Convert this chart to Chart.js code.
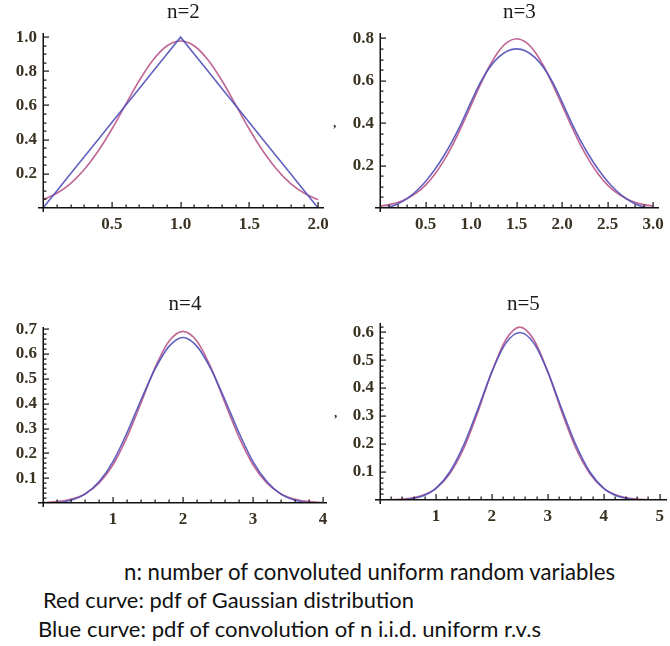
<!DOCTYPE html>
<html><head><meta charset="utf-8">
<script src="https://cdn.jsdelivr.net/npm/chart.js@4.4.0/dist/chart.umd.min.js"></script>
<style>
html,body{margin:0;padding:0;background:#fff;width:670px;height:646px;overflow:hidden;position:relative;}
canvas{position:absolute;}
.cap{position:absolute;font-family:Lato,'Open Sans',sans-serif;color:#111;white-space:nowrap;line-height:1;font-size:19px;}
.mark{position:absolute;font-family:'Liberation Serif',serif;font-weight:bold;font-size:13px;color:#222;line-height:1;}
</style></head><body>
<canvas id="c2" width="335" height="240" style="left:0;top:0"></canvas>
<canvas id="c3" width="335" height="240" style="left:335px;top:0"></canvas>
<canvas id="c4" width="335" height="255" style="left:0;top:280px"></canvas>
<canvas id="c5" width="335" height="255" style="left:335px;top:280px"></canvas>
<div class="mark" style="left:333px;top:116px">,</div>
<div class="mark" style="left:334px;top:406px">,</div>
<div class="cap" id="t1" data-w="491" style="left:124px;top:561px">n: number of convoluted uniform random variables</div>
<div class="cap" id="t2" data-w="371" style="left:43px;top:589px">Red curve: pdf of Gaussian distribution</div>
<div class="cap" id="t3" data-w="503" style="left:38px;top:618px">Blue curve: pdf of convolution of n i.i.d. uniform r.v.s</div>
<script>
// ---------- data ----------
const titles = ['n=2','n=3','n=4','n=5'];

const x2 = [0,0.1,0.2,0.3,0.4,0.5,0.6,0.7,0.8,0.9,1.0,1.1,1.2,1.3,1.4,1.5,1.6,1.7,1.8,1.9,2.0];
const blue2 = [0,0.1,0.2,0.3,0.4,0.5,0.6,0.7,0.8,0.9,1.0,0.9,0.8,0.7,0.6,0.5,0.4,0.3,0.2,0.1,0];
const red2 = [0.049,0.086,0.143,0.225,0.332,0.461,0.605,0.746,0.866,0.948,0.977,0.948,0.866,0.746,0.605,0.461,0.332,0.225,0.143,0.086,0.049];

const x3 = [0,0.1,0.2,0.3,0.4,0.5,0.6,0.7,0.8,0.9,1.0,1.1,1.2,1.3,1.4,1.5,1.6,1.7,1.8,1.9,2.0,2.1,2.2,2.3,2.4,2.5,2.6,2.7,2.8,2.9,3.0];
const blue3 = [0,0.005,0.02,0.045,0.08,0.125,0.18,0.245,0.32,0.405,0.5,0.59,0.66,0.71,0.74,0.75,0.74,0.71,0.66,0.59,0.5,0.405,0.32,0.245,0.18,0.125,0.08,0.045,0.02,0.005,0];
const red3 = [0.009,0.016,0.027,0.045,0.071,0.108,0.158,0.222,0.299,0.388,0.484,0.579,0.667,0.737,0.782,0.798,0.782,0.737,0.667,0.579,0.484,0.388,0.299,0.222,0.158,0.108,0.071,0.045,0.027,0.016,0.009];

const x4 = [0,0.2,0.4,0.6,0.8,1.0,1.2,1.4,1.6,1.8,2.0,2.2,2.4,2.6,2.8,3.0,3.2,3.4,3.6,3.8,4.0];
const blue4 = [0,0.0013,0.0107,0.036,0.0853,0.1667,0.2827,0.4147,0.5387,0.6307,0.6667,0.6307,0.5387,0.4147,0.2827,0.1667,0.0853,0.036,0.0107,0.0013,0];
const red4 = [0.0017,0.0054,0.0149,0.0365,0.0797,0.154,0.265,0.403,0.544,0.651,0.691,0.651,0.544,0.403,0.265,0.154,0.0797,0.0365,0.0149,0.0054,0.0017];

const x5 = [0,0.25,0.5,0.75,1.0,1.25,1.5,1.75,2.0,2.25,2.5,2.75,3.0,3.25,3.5,3.75,4.0,4.25,4.5,4.75,5.0];
const blue5 = [0,0.0002,0.0026,0.0132,0.0417,0.1009,0.1979,0.3249,0.4583,0.5609,0.599,0.5609,0.4583,0.3249,0.1979,0.1009,0.0417,0.0132,0.0026,0.0002,0];
const red5 = [0.0003,0.0014,0.0051,0.0157,0.0415,0.0948,0.186,0.315,0.458,0.573,0.618,0.573,0.458,0.315,0.186,0.0948,0.0415,0.0157,0.0051,0.0014,0.0003];

// tick labels
const xTicks2 = [0.5,1.0,1.5,2.0];
const yTicks2 = [0.2,0.4,0.6,0.8,1.0];
const xTicks3 = [0.5,1.0,1.5,2.0,2.5,3.0];
const yTicks3 = [0.2,0.4,0.6,0.8];
const xTicks4 = [1,2,3,4];
const yTicks4 = [0.1,0.2,0.3,0.4,0.5,0.6,0.7];
const xTicks5 = [1,2,3,4,5];
const yTicks5 = [0.1,0.2,0.3,0.4,0.5,0.6];

// ---------- drawing ----------
const BLUE = 'rgba(80,80,185,0.9)';
const RED = 'rgba(180,75,130,0.85)';
const LABEL = '#3a3222';

function axesPlugin(o, name) {
  return {
    id: 'axes_' + name,
    afterDraw(chart) {
      const ctx = chart.ctx, a = chart.chartArea;
      const x = chart.scales.x, y = chart.scales.y;
      const x0 = Math.round(x.getPixelForValue(0));
      const y0 = Math.round(y.getPixelForValue(0));
      ctx.save();
      ctx.setTransform(1, 0, 0, 1, 0, 0);
      ctx.globalAlpha = 1;
      ctx.globalCompositeOperation = 'source-over';
      ctx.fillStyle = '#111';
      ctx.fillRect(Math.round(a.left) - 5, y0 - 1, Math.round(a.right - a.left) + 5, 1.5);
      ctx.fillRect(x0 - 0.5, Math.round(a.top), 1.5, y0 + 4 - Math.round(a.top));
      const nx = Math.floor(o.xMax / o.xMinor + 1e-6);
      for (let k = 1; k <= nx; k++) {
        const v = k * o.xMinor;
        const r = v / o.xMajor;
        const major = Math.abs(r - Math.round(r)) < 1e-6;
        const px = Math.round(x.getPixelForValue(v));
        const len = major ? 6 : 3.5;
        ctx.fillRect(px - 0.5, y0 - len, 1.2, len);
      }
      const ny = Math.floor(o.yMax / o.yMinor + 1e-6);
      for (let k = 1; k <= ny; k++) {
        const v = k * o.yMinor;
        const r = v / o.yMajor;
        const major = Math.abs(r - Math.round(r)) < 1e-6;
        const py = Math.round(y.getPixelForValue(v));
        const len = major ? 6 : 3.5;
        ctx.fillRect(x0, py - 0.5, len, 1.2);
      }
      ctx.restore();
    }
  };
}

function pts(xs, ys) { return xs.map((v, i) => ({x: v, y: ys[i]})); }

function makeChart(id, cfg) {
  const font = {family: "'Liberation Serif', serif", size: 17, weight: 'bold'};
  cfg.ticks.xMax = cfg.xMax; cfg.ticks.yMax = cfg.yMax;
  new Chart(document.getElementById(id), {
    type: 'line',
    data: {
      datasets: [
        {data: pts(cfg.xs, cfg.blue), borderColor: BLUE, borderWidth: 1.6, pointRadius: 0, fill: false,
         tension: 0, cubicInterpolationMode: cfg.straightBlue ? 'default' : 'monotone'},
        {data: pts(cfg.xs, cfg.red), borderColor: RED, borderWidth: 1.6, pointRadius: 0, fill: false,
         cubicInterpolationMode: 'monotone'}
      ]
    },
    options: {
      responsive: false, animation: false, devicePixelRatio: 1,
      layout: {padding: {left: 0, right: cfg.padR, top: 0, bottom: 0}},
      plugins: {
        legend: {display: false}, tooltip: {enabled: false},
        title: {display: true, text: cfg.title, fullSize: false, color: '#1a1a1a',
                font: {family: "'Liberation Serif', serif", size: 21, weight: 'normal'},
                padding: {top: cfg.tPadTop, bottom: cfg.tPadBot}}
      },
      scales: {
        x: {type: 'linear', min: 0, max: cfg.xMax,
            grid: {display: false, drawTicks: false}, border: {display: false},
            ticks: {padding: 6, font: font, color: LABEL, maxRotation: 0, autoSkip: false, includeBounds: false,
                    callback: v => cfg.xFmt(v)},
            afterBuildTicks: ax => { ax.ticks = cfg.xT.map(v => ({value: v})); },
            afterFit: ax => { ax.height = cfg.xH; }},
        y: {type: 'linear', min: 0, max: cfg.yMax,
            grid: {display: false, drawTicks: false}, border: {display: false},
            ticks: {padding: 6, font: font, color: LABEL, autoSkip: false, includeBounds: false,
                    callback: v => v.toFixed(1)},
            afterBuildTicks: ax => { ax.ticks = cfg.yT.map(v => ({value: v})); },
            afterFit: ax => { ax.width = cfg.yW; }}
      }
    },
    plugins: [axesPlugin(cfg.ticks, id)]
  });
}

makeChart('c2', {title: titles[0], xs: x2, blue: blue2, red: red2, straightBlue: true,
  xMax: 2.04, yMax: 1.023, xT: xTicks2, yT: yTicks2, xFmt: v => v.toFixed(1),
  yW: 43, xH: 32, padR: 10, tPadTop: 0, tPadBot: 8,
  ticks: {xMinor: 0.1, xMajor: 0.5, yMinor: 0.05, yMajor: 0.2}});
makeChart('c3', {title: titles[1], xs: x3, blue: blue3, red: red3,
  xMax: 3.06, yMax: 0.824, xT: xTicks3, yT: yTicks3, xFmt: v => v.toFixed(1),
  yW: 45, xH: 32, padR: 6, tPadTop: 0, tPadBot: 8,
  ticks: {xMinor: 0.1, xMajor: 0.5, yMinor: 0.05, yMajor: 0.2}});
makeChart('c4', {title: titles[2], xs: x4, blue: blue4, red: red4,
  xMax: 4.057, yMax: 0.708, xT: xTicks4, yT: yTicks4, xFmt: v => String(Math.round(v)),
  yW: 43, xH: 32, padR: 8, tPadTop: 12, tPadBot: 10,
  ticks: {xMinor: 0.2, xMajor: 1, yMinor: 0.02, yMajor: 0.1}});
makeChart('c5', {title: titles[3], xs: x5, blue: blue5, red: red5,
  xMax: 5.125, yMax: 0.632, xT: xTicks5, yT: yTicks5, xFmt: v => String(Math.round(v)),
  yW: 45, xH: 35, padR: 3, tPadTop: 12, tPadBot: 6,
  ticks: {xMinor: 0.2, xMajor: 1, yMinor: 0.02, yMajor: 0.1}});

document.querySelectorAll('.cap').forEach(el => {
  const target = +el.dataset.w;
  const w = el.getBoundingClientRect().width;
  el.style.fontSize = (19 * target / w).toFixed(2) + 'px';
});
</script>
</body></html>
